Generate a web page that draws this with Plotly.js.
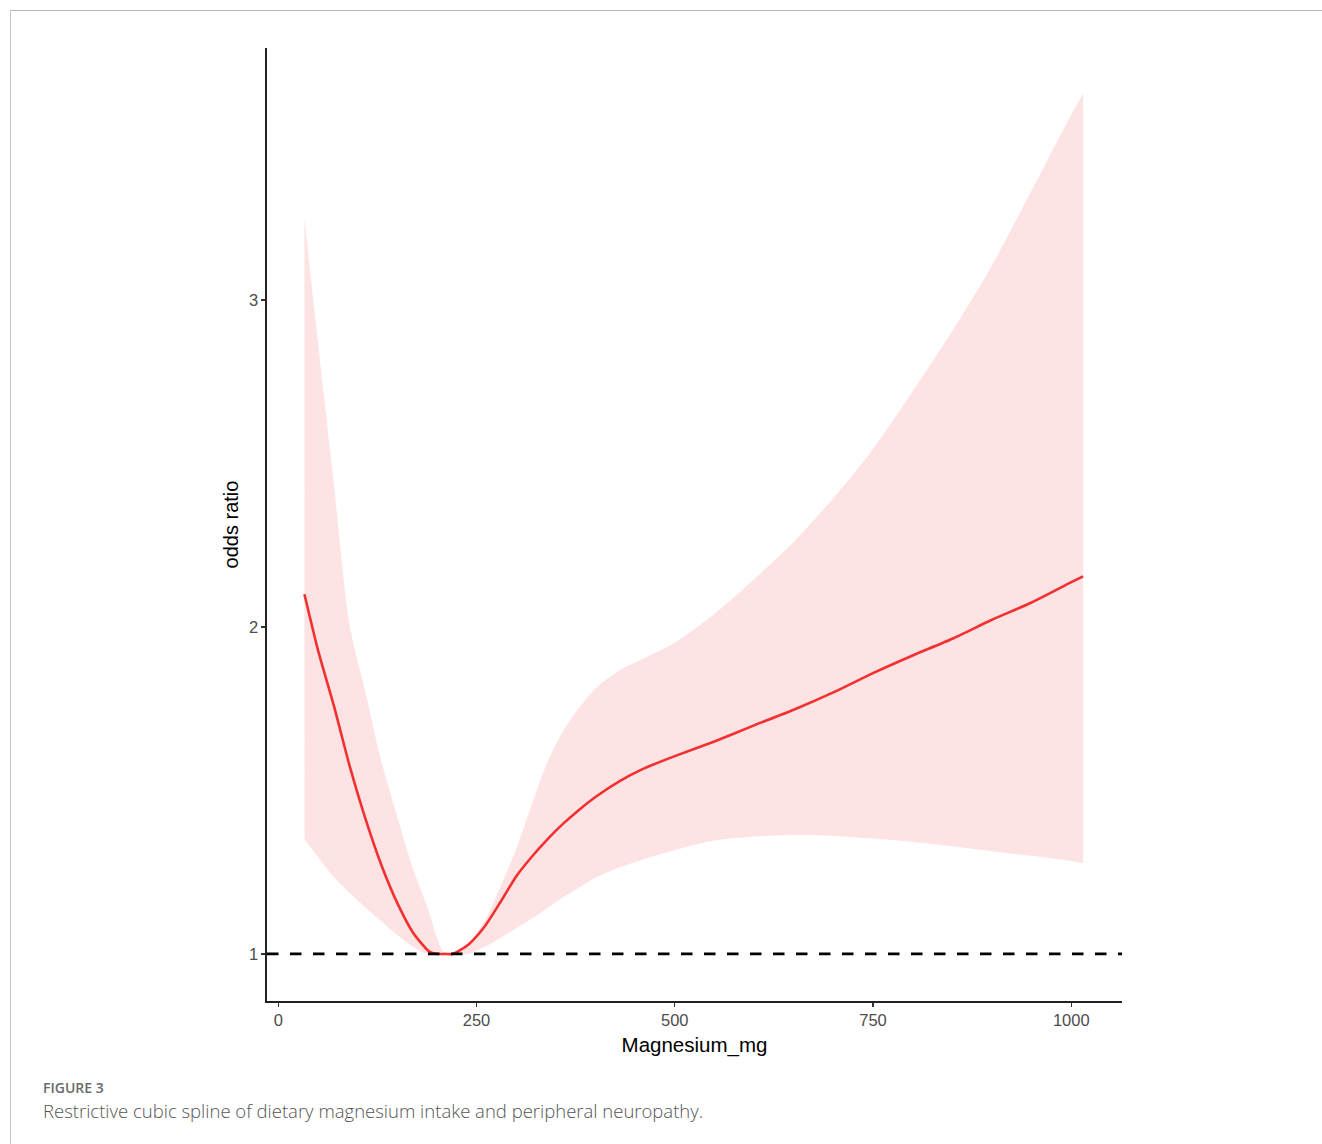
<!DOCTYPE html>
<html>
<head>
<meta charset="utf-8">
<script src="https://cdn.plot.ly/plotly-3.0.1.min.js"></script>
<style>
  html, body { margin: 0; padding: 0; background: #ffffff; }
  #frame { position: absolute; left: 10px; top: 10px; width: 1312px; height: 1134px;
           border-top: 1.5px solid #b8b8b8; border-left: 1.5px solid #c4c4c4; box-sizing: border-box; }
  #chart { position: absolute; left: 0; top: 0; width: 1322px; height: 1144px; }
  #figlabel { position: absolute; left: 43px; top: 1078px; font-family: "Open Sans", sans-serif;
              font-size: 14px; font-weight: 600; color: #6a6a6a; }
  #caption { position: absolute; left: 43px; top: 1098px; font-family: "Open Sans", sans-serif;
             font-size: 18.5px; font-weight: 300; color: #555; }
</style>
</head>
<body>
<div id="frame"></div>
<div id="chart"></div>
<div id="figlabel">FIGURE 3</div>
<div id="caption">Restrictive cubic spline of dietary magnesium intake and peripheral neuropathy.</div>
<script>
// Magnesium intake (mg) grid
const magnesium = [33, 50, 70, 90, 110, 130, 150, 170, 190, 200, 210, 220, 240, 260, 280, 300, 320, 340, 360, 380, 400, 430, 460, 500, 550, 600, 650, 700, 750, 800, 850, 900, 950, 1000, 1015];
// Estimated odds ratio (spline fit)
const oddsRatio = [2.10, 1.93, 1.76, 1.575, 1.413, 1.272, 1.156, 1.065, 1.008, 1.0, 1.0, 1.0, 1.029, 1.083, 1.158, 1.237, 1.298, 1.352, 1.40, 1.442, 1.48, 1.528, 1.566, 1.605, 1.65, 1.699, 1.747, 1.80, 1.859, 1.913, 1.964, 2.022, 2.075, 2.137, 2.155];
// Upper 95% CI
const ciUpper = [3.25, 2.87, 2.44, 2.005, 1.80, 1.59, 1.42, 1.26, 1.13, 1.05, 1.0, 1.0, 1.035, 1.10, 1.205, 1.32, 1.46, 1.59, 1.685, 1.755, 1.812, 1.867, 1.903, 1.952, 2.04, 2.146, 2.26, 2.394, 2.544, 2.721, 2.905, 3.106, 3.335, 3.567, 3.632];
// Lower 95% CI
const ciLower = [1.35, 1.297, 1.235, 1.187, 1.142, 1.10, 1.058, 1.022, 0.997, 0.995, 1.0, 1.0, 1.0, 1.021, 1.049, 1.078, 1.108, 1.142, 1.175, 1.204, 1.233, 1.264, 1.289, 1.318, 1.347, 1.359, 1.364, 1.361, 1.353, 1.343, 1.329, 1.314, 1.30, 1.284, 1.277];
// Reference odds ratio line
const referenceOR = 1;
const xTicks = [0, 250, 500, 750, 1000];
const yTicks = [1, 2, 3];

const bandColor = 'rgb(253,227,228)';
const traces = [
  { x: magnesium, y: ciUpper, type: 'scatter', mode: 'lines', line: { width: 0, color: bandColor, shape: 'spline', smoothing: 0.8 },
    hoverinfo: 'skip', showlegend: false },
  { x: magnesium, y: ciLower, type: 'scatter', mode: 'lines', line: { width: 0, color: bandColor, shape: 'spline', smoothing: 0.8 },
    fill: 'tonexty', fillcolor: bandColor, hoverinfo: 'skip', showlegend: false },
  { x: magnesium, y: oddsRatio, type: 'scatter', mode: 'lines', line: { width: 2.6, color: 'rgb(242,48,48)', shape: 'spline', smoothing: 0.6 },
    showlegend: false }
];

const axisFont = { family: 'Liberation Sans', size: 16.5, color: '#4d4d4d' };
const layout = {
  width: 1322, height: 1144,
  margin: { l: 267, r: 200, t: 48, b: 143 },
  paper_bgcolor: 'rgba(0,0,0,0)',
  plot_bgcolor: 'rgba(0,0,0,0)',
  showlegend: false,
  xaxis: {
    range: [-14.2, 1064], tickvals: xTicks, ticktext: xTicks.map(String),
    showgrid: false, zeroline: false, showline: true, linecolor: '#222', linewidth: 1.6,
    ticks: 'outside', ticklen: 4, tickwidth: 1.2, tickcolor: '#333',
    tickfont: axisFont,
    title: { text: 'Magnesium_mg', font: { family: 'Liberation Sans', size: 20.5, color: '#000' }, standoff: 9 }
  },
  yaxis: {
    range: [0.856, 3.771], tickvals: yTicks, ticktext: yTicks.map(String),
    showgrid: false, zeroline: false, showline: true, linecolor: '#222', linewidth: 1.6,
    ticks: 'outside', ticklen: 4, tickwidth: 1.2, tickcolor: '#333',
    tickfont: axisFont,
    title: { text: 'odds ratio', font: { family: 'Liberation Sans', size: 20, color: '#000' }, standoff: 5 }
  },
  shapes: [
    { type: 'line', xref: 'paper', x0: 0, x1: 1, yref: 'y', y0: referenceOR, y1: referenceOR,
      line: { color: '#000', width: 2.6, dash: '11.5px,11.5px' }, layer: 'above' }
  ]
};

Plotly.newPlot('chart', traces, layout, { displayModeBar: false, staticPlot: true });
</script>
</body>
</html>
